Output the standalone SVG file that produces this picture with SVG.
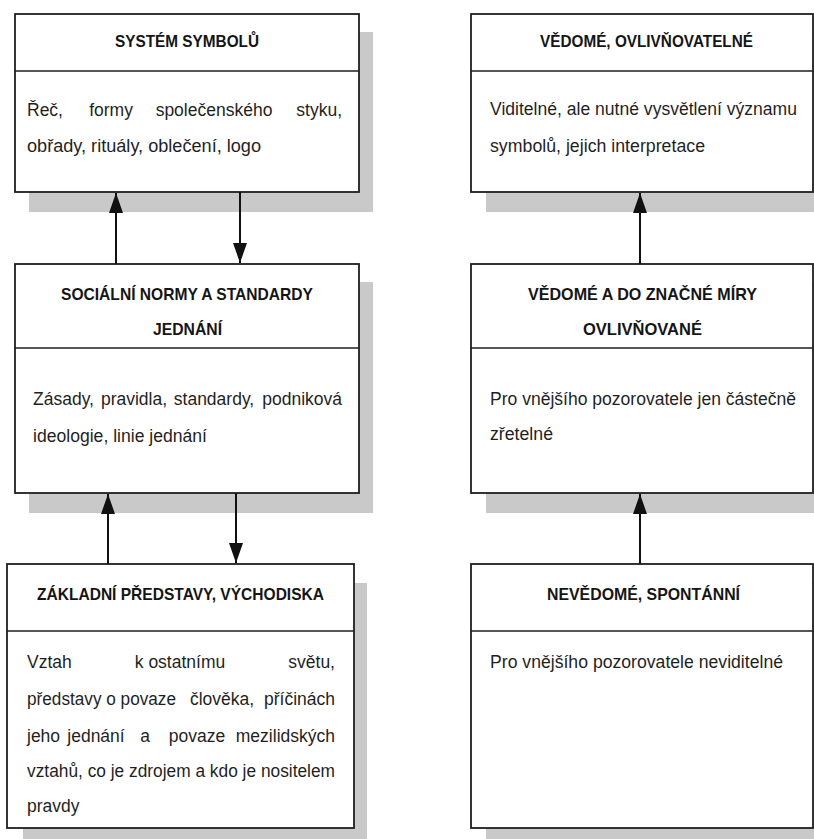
<svg xmlns="http://www.w3.org/2000/svg" width="814" height="839" viewBox="0 0 814 839">
<defs>
<style>
.shadow{fill:#c9c9c9}
.box{fill:#fff;stroke:#1e1e1e;stroke-width:1.8}
.div{stroke:#1e1e1e;stroke-width:1.6}
.t{font-family:"Liberation Sans",Arial,sans-serif;font-size:17px;font-weight:bold;fill:#151515}
.b{font-family:"Liberation Sans",Arial,sans-serif;font-size:17.5px;fill:#1f1f1f}
.m{text-anchor:middle}
.e{text-anchor:end}
.c{stroke:#111;stroke-width:2;fill:none;marker-end:url(#ah)}
</style>
<marker id="ah" viewBox="0 0 20 14" refX="20" refY="7" markerWidth="20" markerHeight="14" markerUnits="userSpaceOnUse" orient="auto">
<path d="M0,0 L20,7 L0,14 z" fill="#111"/>
</marker>
</defs>
<rect width="814" height="839" fill="#fff"/>

<g id="n1">
<rect class="shadow" x="29" y="32" width="344" height="180"/>
<rect class="box" x="15" y="14" width="344" height="178"/>
<line class="div" x1="15" y1="71" x2="359" y2="71"/>
<text class="t" x="115" y="47" textLength="144" lengthAdjust="spacingAndGlyphs">SYSTÉM SYMBOLŮ</text>
<text class="b" x="27" y="116">Řeč,</text>
<text class="b m" x="111" y="116">formy</text>
<text class="b m" x="214" y="116">společenského</text>
<text class="b e" x="342" y="116">styku,</text>
<text class="b" x="27" y="152" textLength="234" lengthAdjust="spacingAndGlyphs">obřady, rituály, oblečení, logo</text>
</g>

<g id="n2">
<rect class="shadow" x="486" y="32" width="340" height="180"/>
<rect class="box" x="471" y="14" width="342" height="178"/>
<line class="div" x1="471" y1="71" x2="813" y2="71"/>
<text class="t" x="540" y="47" textLength="213" lengthAdjust="spacingAndGlyphs">VĚDOMÉ, OVLIVŇOVATELNÉ</text>
<text class="b" x="490" y="115" textLength="307" lengthAdjust="spacingAndGlyphs">Viditelné, ale nutné vysvětlení významu</text>
<text class="b" x="490" y="152" textLength="215" lengthAdjust="spacingAndGlyphs">symbolů, jejich interpretace</text>
</g>

<g id="n3">
<rect class="shadow" x="29" y="282" width="344" height="231"/>
<rect class="box" x="15" y="264" width="344" height="229"/>
<line class="div" x1="15" y1="348" x2="359" y2="348"/>
<text class="t" x="61" y="300" textLength="252" lengthAdjust="spacingAndGlyphs">SOCIÁLNÍ NORMY A STANDARDY</text>
<text class="t" x="153" y="335" textLength="69" lengthAdjust="spacingAndGlyphs">JEDNÁNÍ</text>
<text class="b" x="33" y="405">Zásady,</text>
<text class="b m" x="134" y="405">pravidla,</text>
<text class="b m" x="214" y="405">standardy,</text>
<text class="b e" x="342" y="405">podniková</text>
<text class="b" x="33" y="442" textLength="174" lengthAdjust="spacingAndGlyphs">ideologie, linie jednání</text>
</g>

<g id="n4">
<rect class="shadow" x="486" y="282" width="340" height="231"/>
<rect class="box" x="471" y="264" width="342" height="229"/>
<line class="div" x1="471" y1="348" x2="813" y2="348"/>
<text class="t" x="528" y="300" textLength="229" lengthAdjust="spacingAndGlyphs">VĚDOMÉ A DO ZNAČNÉ MÍRY</text>
<text class="t" x="583" y="335" textLength="119" lengthAdjust="spacingAndGlyphs">OVLIVŇOVANÉ</text>
<text class="b" x="490" y="405" textLength="306" lengthAdjust="spacingAndGlyphs">Pro vnějšího pozorovatele jen částečně</text>
<text class="b" x="490" y="440" textLength="63" lengthAdjust="spacingAndGlyphs">zřetelné</text>
</g>

<g id="n5">
<rect class="shadow" x="23" y="583" width="344" height="260"/>
<rect class="box" x="7" y="564" width="347" height="264"/>
<line class="div" x1="7" y1="631" x2="354" y2="631"/>
<text class="t" x="37" y="600" textLength="287" lengthAdjust="spacingAndGlyphs">ZÁKLADNÍ PŘEDSTAVY, VÝCHODISKA</text>
<text class="b" x="27" y="668">Vztah</text>
<text class="b m" x="180" y="668">k ostatnímu</text>
<text class="b e" x="335" y="668">světu,</text>
<text class="b" x="27" y="705" textLength="149" lengthAdjust="spacingAndGlyphs">představy o povaze</text>
<text class="b m" x="222" y="705">člověka,</text>
<text class="b e" x="335" y="705">příčinách</text>
<text class="b" x="27" y="742">jeho</text>
<text class="b m" x="96" y="742">jednání</text>
<text class="b m" x="145" y="742">a</text>
<text class="b m" x="197" y="742">povaze</text>
<text class="b e" x="335" y="742">mezilidských</text>
<text class="b" x="27" y="777" textLength="308" lengthAdjust="spacingAndGlyphs">vztahů, co je zdrojem a kdo je nositelem</text>
<text class="b" x="27" y="812">pravdy</text>
</g>

<g id="n6">
<rect class="shadow" x="486" y="583" width="340" height="260"/>
<rect class="box" x="471" y="564" width="342" height="264"/>
<line class="div" x1="471" y1="631" x2="813" y2="631"/>
<text class="t" x="547" y="600" textLength="193" lengthAdjust="spacingAndGlyphs">NEVĚDOMÉ, SPONTÁNNÍ</text>
<text class="b" x="490" y="668" textLength="293" lengthAdjust="spacingAndGlyphs">Pro vnějšího pozorovatele neviditelné</text>
</g>

<g id="connectors">
<line class="c" x1="116" y1="264" x2="116" y2="193"/>
<line class="c" x1="240" y1="192" x2="240" y2="263"/>
<line class="c" x1="108" y1="564" x2="108" y2="494"/>
<line class="c" x1="236" y1="493" x2="236" y2="563"/>
<line class="c" x1="640" y1="264" x2="640" y2="193"/>
<line class="c" x1="640" y1="564" x2="640" y2="494"/>
</g>
</svg>
